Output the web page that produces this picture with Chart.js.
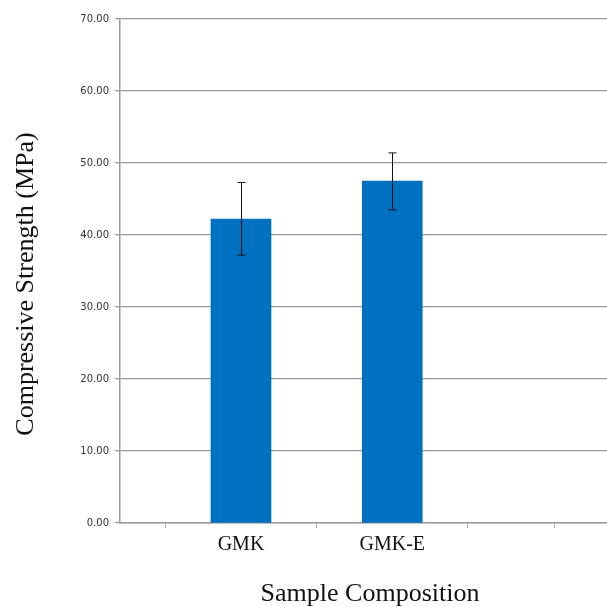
<!DOCTYPE html>
<html lang="en">

<head>
    <meta charset="UTF-8">
    <title>Compressive Strength</title>
    <script src="https://cdn.jsdelivr.net/npm/chart.js"></script>
    <style>
        html, body { margin: 0; padding: 0; background: #fff; }
        #box { width: 607px; height: 607px; }
    </style>
</head>

<body>
    <div id="box"><canvas id="strengthChart"></canvas></div>

<script>
    // data
    const categories = ['GMK', 'GMK-E'];
    const strength = [42.2, 47.5];
    const errLow = [37.2, 43.5];
    const errHigh = [47.3, 51.4];
    const yTicks = [0, 10, 20, 30, 40, 50, 60, 70];
    // category boundary tick marks on the x axis (category n sits at x = n)
    const xTickMarks = [0.5, 1.5, 2.5, 3.07];

    const points = strength.map((v, i) => ({ x: i + 1, y: v }));

    const errorBars = {
        id: 'errorBars',
        afterDatasetsDraw(chart) {
            const { ctx, scales: { x, y } } = chart;
            ctx.save();
            ctx.strokeStyle = '#111';
            ctx.lineWidth = 1;
            categories.forEach((c, i) => {
                const px = Math.round(x.getPixelForValue(i + 1)) + 0.5;
                const top = y.getPixelForValue(errHigh[i]);
                const bot = y.getPixelForValue(errLow[i]);
                ctx.beginPath();
                ctx.moveTo(px, top);
                ctx.lineTo(px, bot);
                ctx.moveTo(px - 4, top);
                ctx.lineTo(px + 4, top);
                ctx.moveTo(px - 4, bot);
                ctx.lineTo(px + 4, bot);
                ctx.stroke();
            });
            ctx.restore();
        }
    };

    new Chart(document.getElementById('strengthChart'), {
        type: 'bar',
        data: {
            datasets: [{
                data: points,
                backgroundColor: '#0070C0',
                borderWidth: 0,
                barThickness: 60
            }]
        },
        options: {
            responsive: true,
            maintainAspectRatio: false,
            animation: false,
            layout: { padding: { top: 19, right: 0, left: 0, bottom: 0 } },
            plugins: { legend: { display: false }, tooltip: { enabled: false } },
            scales: {
                x: {
                    type: 'linear',
                    offset: false,
                    min: 0.2,
                    max: 3.42,
                    afterFit: s => { s.height = 84; },
                    afterBuildTicks: s => {
                        const vals = categories.map((c, i) => i + 1).concat(xTickMarks);
                        s.ticks = vals.sort((a, b) => a - b).map(v => ({ value: v }));
                    },
                    grid: {
                        offset: false,
                        drawOnChartArea: false,
                        tickLength: 5,
                        color: c => (c.tick && Number.isInteger(c.tick.value)) ? 'rgba(0,0,0,0)' : '#aaa'
                    },
                    border: { color: '#999', width: 1.5 },
                    ticks: {
                        autoSkip: false,
                        maxRotation: 0,
                        padding: 5,
                        color: '#111',
                        font: { family: '"Liberation Serif", "Times New Roman", serif', size: 20 },
                        callback: v => Number.isInteger(v) ? categories[v - 1] : ''
                    },
                    title: {
                        display: true,
                        // leading en space nudges the title right like the original
                        text: '\u2002Sample Composition',
                        color: '#111',
                        padding: { top: 0, bottom: 0 },
                        font: { family: '"Liberation Serif", "Times New Roman", serif', size: 26, lineHeight: 1 }
                    }
                },
                y: {
                    min: 0,
                    max: 70,
                    afterFit: s => { s.width = 120; },
                    afterBuildTicks: s => { s.ticks = yTicks.map(v => ({ value: v })); },
                    grid: { color: '#999', lineWidth: 1.2, tickLength: 5 },
                    border: { color: '#999', width: 1.5 },
                    ticks: {
                        padding: 6,
                        color: '#333',
                        font: { family: '"DejaVu Sans", Verdana, sans-serif', size: 10 },
                        callback: v => v.toFixed(2)
                    },
                    title: {
                        display: true,
                        // trailing em space shifts the title a bit lower, as in the original
                        text: 'Compressive Strength (MPa)\u2003',
                        color: '#111',
                        padding: { top: 11, bottom: 0 },
                        font: { family: '"Liberation Serif", "Times New Roman", serif', size: 26 }
                    }
                }
            }
        },
        plugins: [errorBars]
    });
</script>
</body>

</html>
